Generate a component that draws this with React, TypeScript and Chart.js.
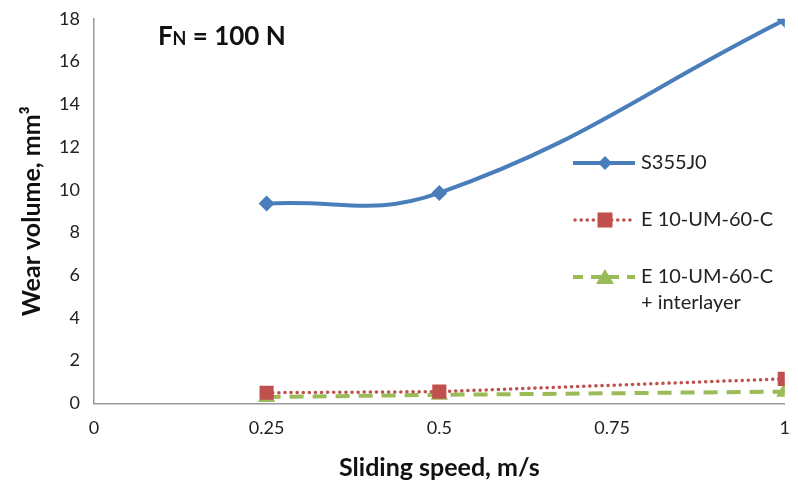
import React, { useEffect, useRef } from "react";
import { Chart, registerables } from "chart.js";

Chart.register(...registerables);

const speeds = [0.25, 0.5, 1];
const steelValues = [9.35, 9.85, 17.95];
const coatingValues = [0.5, 0.55, 1.15];
const interlayerValues = [0.3, 0.4, 0.55];
const seriesNames = ["S355J0", "E 10-UM-60-C", "E 10-UM-60-C", "+ interlayer"];
const xTicks = [0, 0.25, 0.5, 0.75, 1];
const FONT = "Lato, 'Open Sans', sans-serif";

const BLUE = "#4A7EBB";
const RED = "#C0504D";
const GREEN = "#9BBB59";

export default function App() {
  const ref = useRef<HTMLCanvasElement | null>(null);
  useEffect(() => {
    document.body.style.margin = "0";
    const ctx = ref.current!.getContext("2d")!;
    const overlay = {
      id: "overlay",
      afterDraw(chart: any) {
        const c = chart.ctx;
        const a = chart.chartArea;
        c.save();
        // title F_N = 100 N
        c.fillStyle = "#111";
        c.textBaseline = "alphabetic";
        c.textAlign = "left";
        let x = a.left + 64;
        const y = a.top + 26;
        c.font = `bold 26px ${FONT}`;
        c.fillText("F", x, y);
        x += c.measureText("F").width;
        c.font = `bold 18px ${FONT}`;
        c.fillText("N", x, y);
        x += c.measureText("N").width;
        c.font = `bold 26px ${FONT}`;
        c.fillText(" = 100 N", x, y);

        // legend
        const lx0 = 573, lx1 = 635, mx = 605, tx = 641;
        const rows = [163, 220, 277];
        c.font = `20px ${FONT}`;
        c.textBaseline = "middle";
        // row 1
        c.strokeStyle = BLUE; c.lineWidth = 4; c.setLineDash([]);
        c.beginPath(); c.moveTo(lx0, rows[0]); c.lineTo(lx1, rows[0]); c.stroke();
        c.fillStyle = BLUE;
        c.beginPath(); c.moveTo(mx, rows[0] - 7); c.lineTo(mx + 7, rows[0]); c.lineTo(mx, rows[0] + 7); c.lineTo(mx - 7, rows[0]); c.closePath(); c.fill();
        c.fillStyle = "#222"; c.fillText(seriesNames[0], tx, rows[0]);
        // row 2
        c.strokeStyle = RED; c.lineWidth = 3.5; c.lineCap = "round"; c.setLineDash([0.1, 6]);
        c.beginPath(); c.moveTo(lx0 + 2, rows[1]); c.lineTo(lx1, rows[1]); c.stroke();
        c.setLineDash([]); c.lineCap = "butt";
        c.fillStyle = RED; c.fillRect(mx - 7.5, rows[1] - 7.5, 15, 15);
        c.fillStyle = "#222"; c.fillText(seriesNames[1], tx, rows[1]);
        // row 3
        c.strokeStyle = GREEN; c.lineWidth = 4; c.setLineDash([10, 8]);
        c.beginPath(); c.moveTo(lx0, rows[2]); c.lineTo(lx1, rows[2]); c.stroke();
        c.setLineDash([]);
        c.fillStyle = GREEN;
        c.beginPath(); c.moveTo(mx, rows[2] - 8); c.lineTo(mx + 9, rows[2] + 7); c.lineTo(mx - 9, rows[2] + 7); c.closePath(); c.fill();
        c.fillStyle = "#222"; c.fillText(seriesNames[2], tx, rows[2]);
        c.fillText(seriesNames[3], tx, rows[2] + 26);
        c.restore();
      },
    };
    const chart = new Chart(ctx, {
      type: "scatter",
      data: {
        datasets: [
          {
            label: seriesNames[0],
            data: speeds.map((s, i) => ({ x: s, y: steelValues[i] })),
            showLine: true,
            borderColor: BLUE,
            backgroundColor: BLUE,
            borderWidth: 4,
            tension: 0.42,
            pointStyle: "rectRot",
            pointRadius: 8,
            pointBorderWidth: 0,
          },
          {
            label: seriesNames[1],
            data: speeds.map((s, i) => ({ x: s, y: coatingValues[i] })),
            showLine: true,
            borderColor: RED,
            backgroundColor: RED,
            borderWidth: 3.5,
            borderDash: [0.1, 6],
            borderCapStyle: "round",
            tension: 0,
            pointStyle: "rect",
            pointRadius: 10,
            pointBorderWidth: 0,
          },
          {
            label: seriesNames[2] + " " + seriesNames[3],
            data: speeds.map((s, i) => ({ x: s, y: interlayerValues[i] })),
            showLine: true,
            borderColor: GREEN,
            backgroundColor: GREEN,
            borderWidth: 4,
            borderDash: [14, 9],
            tension: 0,
            pointStyle: "triangle",
            pointRadius: 10,
            pointBorderWidth: 0,
          },
        ],
      },
      options: {
        animation: false,
        responsive: false,
        maintainAspectRatio: false,
        layout: { padding: { top: 10, right: 8, left: 17, bottom: 6 } },
        plugins: { legend: { display: false }, tooltip: { enabled: false } },
        scales: {
          x: {
            type: "linear",
            min: 0,
            max: 1,
            afterBuildTicks: (s: any) => { s.ticks = xTicks.map((v) => ({ value: v })); },
            grid: { display: false, drawTicks: true, tickLength: 6, tickColor: "#999" },
            border: { color: "#999", width: 1.5 },
            ticks: { color: "#222", font: { family: FONT, size: 18 }, padding: 8, callback: (v: any) => String(v) },
            title: { display: true, text: "Sliding speed, m/s", color: "#111", font: { family: FONT, size: 25, weight: "bold" }, padding: { top: 6, bottom: 0 } },
          },
          y: {
            min: 0,
            max: 18,
            ticks: { stepSize: 2, color: "#222", font: { family: FONT, size: 18 }, padding: 8 },
            grid: { display: false, drawTicks: true, tickLength: 6, tickColor: "#999" },
            border: { color: "#999", width: 1.5 },
            title: { display: true, text: "Wear volume, mm³", color: "#111", font: { family: FONT, size: 25, weight: "bold" }, padding: { top: 0, bottom: 4 } },
          },
        },
      },
      plugins: [overlay],
    });
    return () => chart.destroy();
  }, []);
  return <canvas ref={ref} width={798} height={489} style={{ display: "block" }} />;
}
